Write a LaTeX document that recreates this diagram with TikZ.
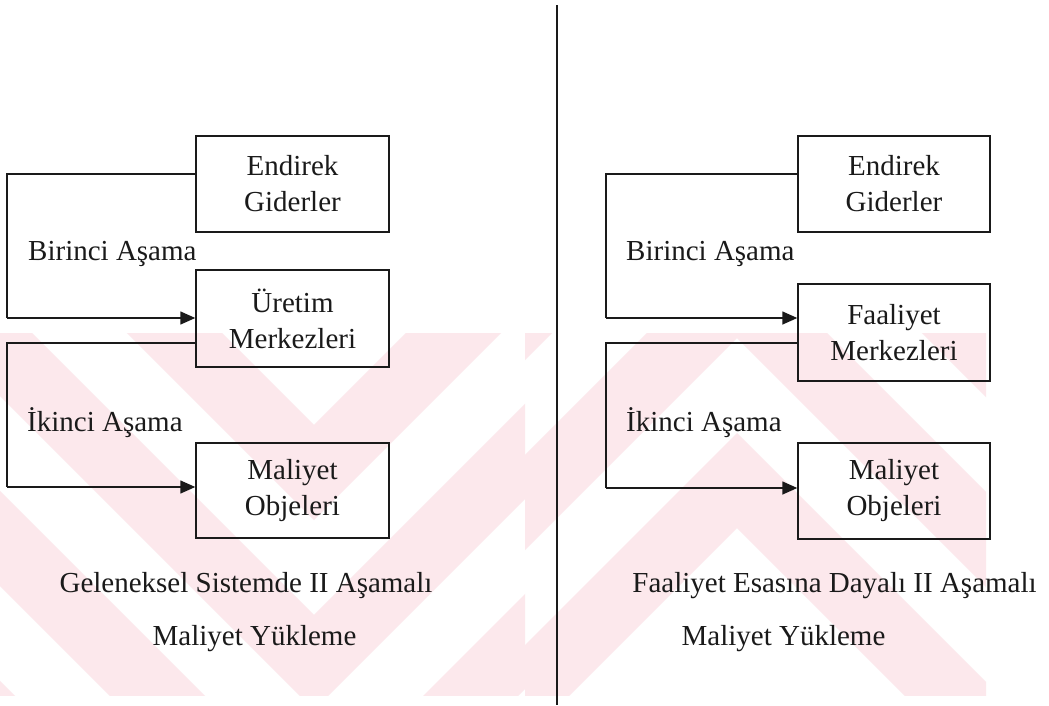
\documentclass[tikz,border=0pt]{standalone}
\usepackage{fontspec}
\setmainfont{Liberation Serif}
\usetikzlibrary{arrows.meta}
\definecolor{wmpink}{HTML}{FCE8EC}
\definecolor{ink}{HTML}{1A1A1A}
\begin{document}
\begin{tikzpicture}[x=1pt,y=-1pt,
  txt/.style={font=\fontsize{29}{36}\selectfont, inner sep=0pt, text=ink},
  box/.style={txt, draw=ink, line width=1.4pt, align=center,
              minimum width=193pt, minimum height=96pt},
  link/.style={draw=ink, line width=1.4pt},
  arr/.style={link, -{Triangle[length=15pt,width=13pt]}},
  band/.style={draw=wmpink, line width=67.2pt, line join=miter}]
\useasboundingbox (0,0) rectangle (1049,705);
\fill[white] (0,0) rectangle (1049,705);

% faint striped background pattern
\begin{scope}
  \clip (0,333) rectangle (525,695);
  \foreach \c in {47.5,237.5,427.5,617.5}
    \draw[band] (-386,{425+\c-700}) -- (314,{425+\c}) -- (1014,{425+\c-700});
\end{scope}
\begin{scope}
  \clip (525,333) rectangle (986,695);
  \foreach \c in {47.5,237.5,427.5}
    \draw[band] (37,{528-\c+700}) -- (737,{528-\c}) -- (1437,{528-\c+700});
\end{scope}

% divider
\coordinate (dtop) at (557,5);
\coordinate (dbot) at (557,705);
\draw[link] (dtop) -- (dbot);

% left: traditional two-stage allocation
\node[box] (e1) at (292.5,184) {Endirek\\Giderler};
\node[box, minimum height=97pt] (u1) at (292.5,318.5) {Üretim\\Merkezleri};
\node[box, minimum height=95pt] (m1) at (292.5,490.5) {Maliyet\\Objeleri};
\coordinate (l1a) at (7,174);  \coordinate (l1b) at (7,318);
\coordinate (l2a) at (7,343);  \coordinate (l2b) at (7,487);
\draw[link] (e1.west |- l1a) -- (l1a) -- (l1b);
\draw[arr] (l1b) -- (u1.west |- l1b);
\draw[link] (u1.west |- l2a) -- (l2a) -- (l2b);
\draw[arr] (l2b) -- (m1.west |- l2b);
\node[txt, anchor=base west] (s1) at (28,260.5) {Birinci Aşama};
\node[txt, anchor=base west] (t1) at (27,431) {İkinci Aşama};
\node[txt, anchor=base] (c1a) at (246,592) {Geleneksel Sistemde II Aşamalı};
\node[txt, anchor=base] (c1b) at (254.5,645) {Maliyet Yükleme};

% right: activity-based two-stage allocation
\node[box, minimum width=192pt] (e2) at (894,184) {Endirek\\Giderler};
\node[box, minimum width=192pt, minimum height=97pt] (f2) at (894,332.5) {Faaliyet\\Merkezleri};
\node[box, minimum width=192pt] (m2) at (894,491) {Maliyet\\Objeleri};
\coordinate (r1a) at (606,174);  \coordinate (r1b) at (606,318);
\coordinate (r2a) at (606,343);  \coordinate (r2b) at (606,488);
\draw[link] (e2.west |- r1a) -- (r1a) -- (r1b);
\draw[arr] (r1b) -- (f2.west |- r1b);
\draw[link] (f2.west |- r2a) -- (r2a) -- (r2b);
\draw[arr] (r2b) -- (m2.west |- r2b);
\node[txt, anchor=base west] (s2) at (626,260.5) {Birinci Aşama};
\node[txt, anchor=base west] (t2) at (626,431) {İkinci Aşama};
\node[txt, anchor=base] (c2a) at (834.5,592) {Faaliyet Esasına Dayalı II Aşamalı};
\node[txt, anchor=base] (c2b) at (783.5,645) {Maliyet Yükleme};
\end{tikzpicture}
\end{document}
